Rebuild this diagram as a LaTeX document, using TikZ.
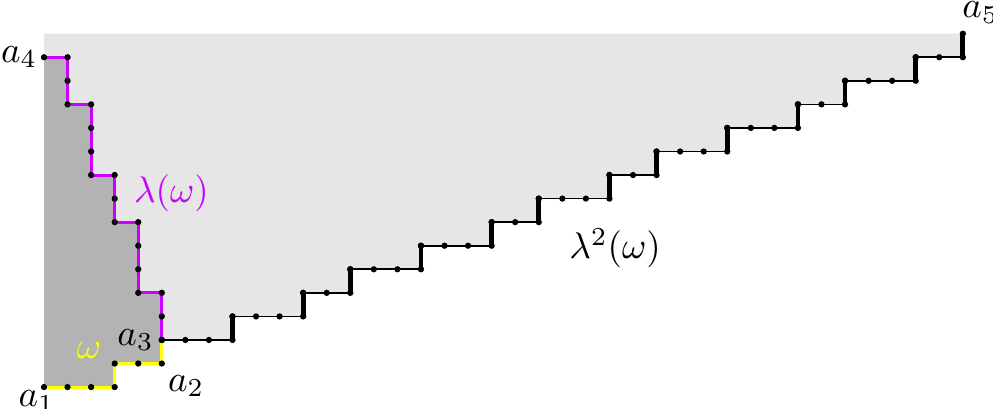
\documentclass[tikz,border=0pt]{standalone}
\usepackage{amsmath,amssymb}
\usetikzlibrary{positioning}
\definecolor{lamcol}{RGB}{204,0,255}
\definecolor{wordcol}{RGB}{255,255,0}
\definecolor{lightfill}{RGB}{230,230,230}
\definecolor{darkfill}{RGB}{179,179,179}

\begin{document}
\begin{tikzpicture}[
    x=0.2237cm, y=0.2237cm,
    flatstep/.style={draw=black,line width=0.45pt},
    upstep/.style={draw=black,line width=1.3pt},
    lampath/.style={draw=lamcol,line width=0.8pt},
    wpath/.style={draw=wordcol,line width=0.8pt},
    dotr/.style={fill=black}
  ]
  \useasboundingbox (-1.868,-0.891) rectangle (40.28,16.43);

  \coordinate (a1) at (0,0);
  \coordinate (a2) at (5,1);
  \coordinate (a3) at (5,2);
  \coordinate (a4) at (0,14);
  \coordinate (a5) at (39,15);

  % regions
  \fill[lightfill] (a1) -- (0,15) -- (a5) -- (39,14) -- (37,14) -- (37,13) -- (34,13) -- (34,12)
    -- (32,12) -- (32,11) -- (29,11) -- (29,10) -- (26,10) -- (26,9) -- (24,9) -- (24,8)
    -- (21,8) -- (21,7) -- (19,7) -- (19,6) -- (16,6) -- (16,5) -- (13,5) -- (13,4)
    -- (11,4) -- (11,3) -- (8,3) -- (8,2) -- (a3) -- (a2) -- (3,1) -- (3,0) -- cycle;
  \fill[darkfill] (a1) -- (3,0) -- (3,1) -- (a2) -- (a3) -- (5,4) -- (4,4) -- (4,7) -- (3,7)
    -- (3,9) -- (2,9) -- (2,12) -- (1,12) -- (1,14) -- (a4) -- cycle;

  % omega and lambda(omega)
  \draw[wpath] (a1) -- (3,0) -- (3,1) -- (a2) -- (a3);
  \draw[lampath] (a3) -- (5,4) -- (4,4) -- (4,7) -- (3,7) -- (3,9) -- (2,9) -- (2,12)
    -- (1,12) -- (1,14) -- (a4);
  \foreach \p in {(0,0),(1,0),(2,0),(3,0),(3,1),(4,1),(5,1),
                  (5,2),(5,3),(5,4),(4,4),(4,5),(4,6),(4,7),(3,7),(3,8),(3,9),
                  (2,9),(2,10),(2,11),(2,12),(1,12),(1,13),(1,14),(0,14)}
    \fill[dotr] \p circle (0.85pt);

  % lambda^2(omega)
  \foreach \xa/\xb/\y in {5/8/2, 8/11/3, 11/13/4, 13/16/5, 16/19/6, 19/21/7, 21/24/8,
                          24/26/9, 26/29/10, 29/32/11, 32/34/12, 34/37/13, 37/39/14} {
    \draw[flatstep] (\xa,\y) -- (\xb,\y);
    \draw[upstep] (\xb,\y) -- (\xb,\y+1);
    \foreach \x in {\xa,...,\xb}
      \fill[dotr] (\x,\y) circle (0.85pt);
    \fill[dotr] (\xb,\y+1) circle (0.85pt);
  }

  \node[below=0pt of a1,xshift=-2pt,inner sep=0.8pt] (la1) {$a_1$};
  \node[below right=1.5pt and 0pt of a2,inner sep=1.5pt] (la2) {$a_2$};
  \node[left=0pt of a3,inner sep=2pt] (la3) {$a_3$};
  \node[left=0pt of a4,inner sep=1.6pt] (la4) {$a_4$};
  \node[above right=2.6pt and 0pt of a5,inner sep=0pt,xshift=-0.3pt] (la5) {$a_5$};

  \node[text=wordcol] (wlbl) at (1.91,1.57) {$\omega$};
  \node[text=lamcol] (llbl) at (5.41,8.23) {$\lambda(\omega)$};
  \node (l2lbl) at (24.24,5.88) {$\lambda^2(\omega)$};
\end{tikzpicture}
\end{document}
